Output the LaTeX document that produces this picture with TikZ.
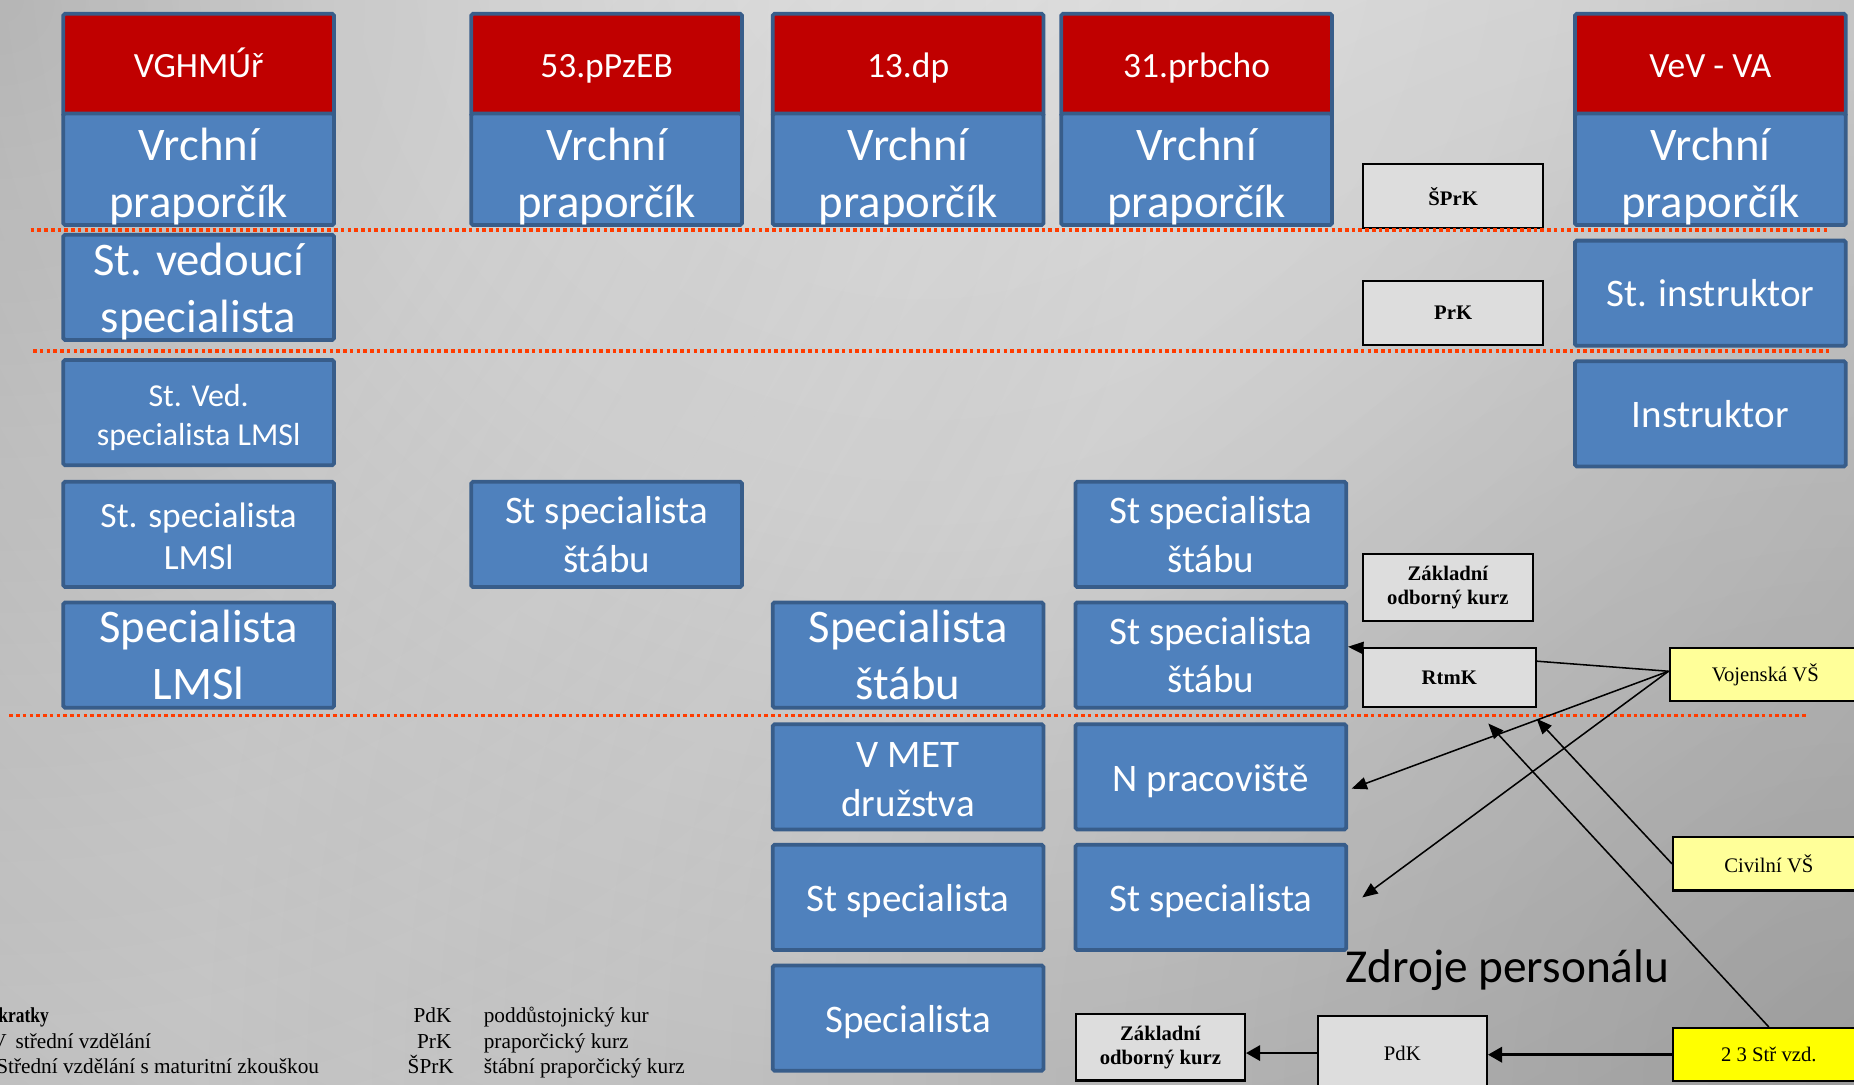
\documentclass[tikz,border=0pt]{standalone}
\usepackage{fontspec}
\usepackage{graphicx}
\setmainfont{Liberation Serif}
\newfontfamily\carlito{Carlito}
\usetikzlibrary{arrows.meta,fadings}
\definecolor{boxblue}{RGB}{79,129,189}
\definecolor{bordblue}{RGB}{56,93,138}
\definecolor{hdrred}{RGB}{192,0,0}
\definecolor{greybox}{RGB}{221,221,221}
\definecolor{lightyel}{RGB}{255,255,153}
\definecolor{brightyel}{RGB}{255,255,0}
\definecolor{dotred}{RGB}{255,60,0}
\definecolor{bgA}{RGB}{236,236,236}
\definecolor{bgB}{RGB}{226,226,226}
\definecolor{bgC}{RGB}{204,204,204}
\definecolor{bgD}{RGB}{180,180,180}
\definecolor{bgE}{RGB}{158,158,158}
\definecolor{bgF}{RGB}{136,136,136}
\pgfdeclareradialshading{bgshade}{\pgfpoint{0bp}{0bp}}{color(0bp)=(bgA); color(8bp)=(bgB); color(16bp)=(bgC); color(26bp)=(bgD); color(38bp)=(bgE); color(50bp)=(bgF)}
\tikzfading[name=cornerfade, inner color=transparent!80, outer color=transparent!100]
\tikzfading[name=tlfade, inner color=transparent!85, outer color=transparent!100]
\newcommand\tstrut[1]{\rule{0pt}{#1}}
\tikzset{
  bbox/.style={draw=bordblue, line width=3.2pt, fill=boxblue, rounded corners=1.5pt,
    text=white, align=center, inner sep=0pt, minimum width=229pt, minimum height=89pt},
  rbox/.style={bbox, fill=hdrred, minimum height=86.4pt, text height=26pt, text depth=4pt,
    font=\carlito\fontsize{30}{36}\selectfont},
  fbig/.style={font=\carlito\fontsize{39.5}{48}\selectfont},
  fmed/.style={font=\carlito\fontsize{33}{41}\selectfont},
  fone/.style={fmed, text height=31pt, text depth=6.6pt},
  fmid/.style={font=\carlito\fontsize{30}{36}\selectfont},
  fsml/.style={font=\carlito\fontsize{27}{33}\selectfont},
  gbox/.style={draw=black, line width=1.8pt, fill=greybox, align=center, inner sep=0pt,
    font=\bfseries\fontsize{17.5}{20.5}\selectfont},
  ybox/.style={draw=black, line width=1.8pt, fill=lightyel, inner sep=0pt,
    minimum width=162pt, minimum height=45pt, font=\fontsize{17.5}{21}\selectfont},
  arr/.style={line width=1.3pt, -{Triangle[length=13pt,width=10.5pt]}},
  barr/.style={line width=2.2pt, -{Triangle[length=12pt,width=13pt]}},
  dotln/.style={dotred, line width=3pt, dash pattern=on 3pt off 2.7pt},
  leg/.style={inner sep=0pt, font=\fontsize{18}{20}\selectfont}
}
\begin{document}
\begin{tikzpicture}[x=1pt,y=-1pt]
\useasboundingbox (0,0) rectangle (1568,917);
\begin{scope}
  \clip (0,0) rectangle (1568,917);
  \shade[shading=bgshade] (780,-80) circle (1600pt);
  \fill[black, path fading=cornerfade] (1568,917) circle (1400pt);
  \fill[black, path fading=tlfade] (0,0) circle (1000pt);
\end{scope}

% header columns
\node[rbox] (h1) at (168,54.8) {VGHMÚř};
\node[bbox,fbig,minimum height=90.4pt] (v1) at (168,143.2) {\tstrut{40pt}Vrchní\\praporčík};
\node[rbox] (h2) at (513,54.8) {53.pPzEB};
\node[bbox,fbig,minimum height=90.4pt] (v2) at (513,143.2) {\tstrut{40pt}Vrchní\\praporčík};
\node[rbox] (h3) at (768,54.8) {13.dp};
\node[bbox,fbig,minimum height=90.4pt] (v3) at (768,143.2) {\tstrut{40pt}Vrchní\\praporčík};
\node[rbox] (h4) at (1012,54.8) {31.prbcho};
\node[bbox,fbig,minimum height=90.4pt] (v4) at (1012,143.2) {\tstrut{40pt}Vrchní\\praporčík};
\node[rbox] (h5) at (1446.5,54.8) {VeV - VA};
\node[bbox,fbig,minimum height=90.4pt] (v5) at (1446.5,143.2) {\tstrut{40pt}Vrchní\\praporčík};

% column 1
\node[bbox,fbig] (c1a) at (168,243) {\tstrut{34pt}St. vedoucí\\specialista};
\node[bbox,fsml] (c1b) at (168,349) {\tstrut{27pt}St. Ved.\\specialista LMSl};
\node[bbox,fmid] (c1c) at (168,452) {\tstrut{24pt}St. specialista\\LMSl};
\node[bbox,fbig] (c1d) at (168,554) {Specialista\\LMSl};
% column 2
\node[bbox,fmed] (c2a) at (513,452) {St specialista\\štábu};
% column 3
\node[bbox,fbig] (c3a) at (768,554) {Specialista\\štábu};
\node[bbox,fmed] (c3b) at (768,657) {\tstrut{25.5pt}V MET\\družstva};
\node[bbox,fone] (c3c) at (768,759) {St specialista};
\node[bbox,fone] (c3d) at (768,861) {Specialista};
% column 4
\node[bbox,fmed] (c4a) at (1024,452) {St specialista\\štábu};
\node[bbox,fmed] (c4b) at (1024,554) {St specialista\\štábu};
\node[bbox,fone] (c4c) at (1024,657) {N pracoviště};
\node[bbox,fone] (c4d) at (1024,759) {St specialista};
% column 5
\node[bbox,fmed] (c5a) at (1446.5,248) {St. instruktor};
\node[bbox,fmed] (c5b) at (1446.5,350) {Instruktor};

% course boxes
\node[gbox,minimum width=152pt,minimum height=54pt] (sprk) at (1229,166) {ŠPrK};
\node[gbox,minimum width=152pt,minimum height=54pt] (prk) at (1229,264.5) {PrK};
\node[gbox,minimum width=144pt,minimum height=56.6pt] (zok1) at (1224.5,496.6) {Základní\\odborný kurz};
\node[gbox,minimum width=143pt,minimum height=56pt] (zok2) at (981.4,885.8) {Základní\\odborný kurz};
\node[gbox,font=\fontsize{17.5}{21}\selectfont,minimum width=143pt,minimum height=63pt] (pdk) at (1186,890.6) {PdK};

% sources
\node[ybox] (voj) at (1493,570.7) {Vojenská VŠ};
\node[ybox] (civ) at (1496,730.6) {Civilní VŠ};
\node[ybox,fill=brightyel] (sz) at (1496,892) {2 3 Stř vzd.};

% dotted level lines
\coordinate (d1a) at (26,194.5);  \coordinate (d1b) at (1546,194.5);
\coordinate (d2a) at (28,297);    \coordinate (d2b) at (1548,297);
\coordinate (d3a) at (8,605);     \coordinate (d3b) at (1527,605);
\draw[dotln] (d1a) -- (d1b);
\draw[dotln] (d2a) -- (d2b);
\draw[dotln] (d3a) -- (d3b);

% connectors
\draw[arr] ([yshift=3pt]voj.west) -- ([yshift=7pt]c4b.east);
\draw[arr] ([yshift=3pt]voj.west) -- ([xshift=3pt,yshift=-10pt]c4c.east);
\draw[arr] ([yshift=3pt]voj.west) -- ([xshift=12pt]c4d.east);
\node[gbox,minimum width=146pt,minimum height=50pt] (rtmk) at (1225.7,573) {RtmK};
\draw[arr] (sz.north) -- ([xshift=33pt,yshift=-13pt]rtmk.south);
\draw[arr] (civ.west) -- ([yshift=-9pt]rtmk.south east);
\draw[barr] (sz.west) -- (sz.west -| pdk.east);
\draw[barr] (pdk.west) -- (pdk.west -| zok2.east);

\node[font=\carlito\fontsize{40}{46}\selectfont, anchor=base, inner sep=0pt] (zdroje) at (1275,831) {Zdroje personálu};

% legend
\node[leg, anchor=base east] (lg0) at (41.5,864.6) {\scalebox{0.82}[1]{\bfseries Zkratky}};
\node[leg, anchor=base east] (lg1a) at (6,886.5) {SV};
\node[leg, anchor=base west] (lg1b) at (13,886.5) {střední vzdělání};
\node[leg, anchor=base east] (lg2) at (270,908) {Střední vzdělání s maturitní zkouškou};
\node[leg, anchor=base east] (lk1) at (382,864.6) {PdK};
\node[leg, anchor=base west] (ld1) at (409,864.6) {poddůstojnický kur};
\node[leg, anchor=base east] (lk2) at (382,886.5) {PrK};
\node[leg, anchor=base west] (ld2) at (409,886.5) {praporčický kurz};
\node[leg, anchor=base east] (lk3) at (384,908) {ŠPrK};
\node[leg, anchor=base west] (ld3) at (409,908) {štábní praporčický kurz};
\end{tikzpicture}
\end{document}
